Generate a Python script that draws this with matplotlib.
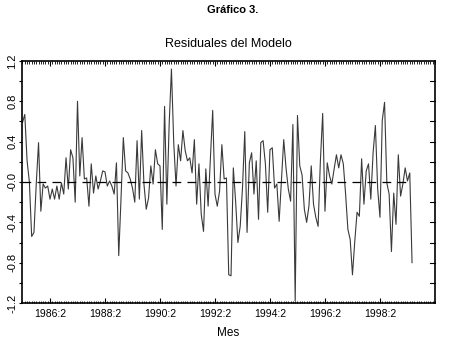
import matplotlib
matplotlib.use("Agg")
import matplotlib.pyplot as plt
import numpy as np
from matplotlib.ticker import FixedLocator, MultipleLocator

plt.rcParams['font.family'] = ['Liberation Sans', 'DejaVu Sans']

# serie mensual de residuales, desde 1985:2
START_YEAR = 1985
START_MONTH = 2
residuals = [
    0.59, 0.67, 0.21, 0.00, -0.54, -0.50, -0.02, 0.39, -0.29, -0.02,
    -0.06, -0.04, -0.17, -0.07, -0.17, -0.04, -0.17, -0.01, -0.12,
    0.24, -0.07, 0.32, 0.24, -0.20, 0.80, 0.06, 0.44, 0.03, 0.04,
    -0.24, 0.18, -0.11, 0.06, -0.07,
    0.01, 0.11, 0.10, -0.04, 0.01, -0.04, -0.12, 0.19, -0.73, -0.16,
    0.44, 0.11, 0.09, 0.03, -0.06, -0.20, 0.41, -0.17, 0.51,
    -0.02, -0.27, -0.16, 0.16, -0.02, 0.32, 0.18, 0.16, -0.47, 0.75,
    -0.22, 0.57, 1.12, 0.39, -0.04, 0.37,
    0.21, 0.51, 0.31, 0.21, 0.24, 0.09, 0.42, -0.22, 0.18, -0.32,
    -0.49, 0.13, -0.24, 0.24, 0.71, -0.12, -0.24, -0.09, 0.37, 0.03,
    0.04, -0.92, -0.93, 0.14, -0.19, -0.60, -0.44, -0.06, 0.50, -0.50,
    0.19, 0.29, -0.12, 0.21, -0.37, 0.39,
    0.41, 0.18, -0.30, 0.32, 0.34, -0.06, -0.02, -0.39, 0.01, 0.42,
    0.14, -0.07, -0.19, 0.57, -1.18, 0.66, 0.16, 0.07, -0.27,
    -0.40, -0.24, 0.16, -0.22, -0.35, -0.44, 0.21, 0.68, -0.29, 0.19,
    0.06, -0.02, 0.13, 0.27, 0.14,
    0.27, 0.18, -0.12, -0.47, -0.57, -0.92, -0.59, -0.30, -0.34, 0.23,
    -0.22, 0.11, 0.18, -0.17, 0.29, 0.56, -0.07, -0.35, 0.61, 0.79,
    -0.01, -0.12, -0.69, -0.11, -0.42, 0.27, -0.14, -0.02, 0.14, 0.01,
    0.09, -0.80,
]
tick_years = [1986, 1988, 1990, 1992, 1994, 1996, 1998]
tick_labels = [f"{y}:2" for y in tick_years]
y_ticks = [1.2, 0.8, 0.4, 0.0, -0.4, -0.8, -1.2]
y_labels = ["1.2", "0.8", "0.4", "-0.0", "-0.4", "-0.8", "-1.2"]

n = len(residuals)
t = START_YEAR + (START_MONTH - 1) / 12 + np.arange(n) / 12

fig = plt.figure(figsize=(4.66, 3.6), dpi=100)
ax = fig.add_axes([0.0472, 0.1583, 0.8863, 0.6723])

ax.plot(t, residuals, color='#3a3a3a', lw=0.8)
ax.plot(t, np.zeros(n), color='black', lw=0.9, dashes=(7, 5))

ax.set_xlim(1985.065, 2000.085)
ax.set_ylim(-1.2, 1.2)

# eje x
ax.xaxis.set_major_locator(FixedLocator([y + 1 / 12 for y in tick_years]))
ax.set_xticklabels(tick_labels, fontsize=7.5)
ax.xaxis.set_minor_locator(FixedLocator(
    [1985 + i / 12 for i in range(0, 16 * 12)]))
ax.tick_params(axis='x', which='major', direction='in', length=3.5,
               top=True, bottom=True, pad=4, width=0.8)
ax.tick_params(axis='x', which='minor', direction='in', length=1.8,
               top=True, bottom=True, width=0.6)

# eje y
ax.set_yticks(y_ticks)
ax.set_yticklabels(y_labels, fontsize=8, rotation=90, va='center')
ax.yaxis.set_minor_locator(MultipleLocator(0.2))
ax.tick_params(axis='y', which='both', direction='out', length=2.5,
               left=True, right=False, pad=1, width=0.8)
for yy in np.arange(-1.0, 1.01, 0.2):
    ax.plot([1.0, 0.988], [yy, yy], transform=ax.get_yaxis_transform(),
            color='black', lw=0.8, clip_on=False)

for s in ax.spines.values():
    s.set_linewidth(1.2)

ax.set_xlabel("Mes", fontsize=8.5, labelpad=6)
ax.set_title("Residuales del Modelo", fontsize=9, pad=10)
fig.text(0.5, 0.972, "Gráfico 3.", ha='center', va='center',
         fontsize=8, fontweight='bold')

fig.savefig("out.png", dpi=100)
